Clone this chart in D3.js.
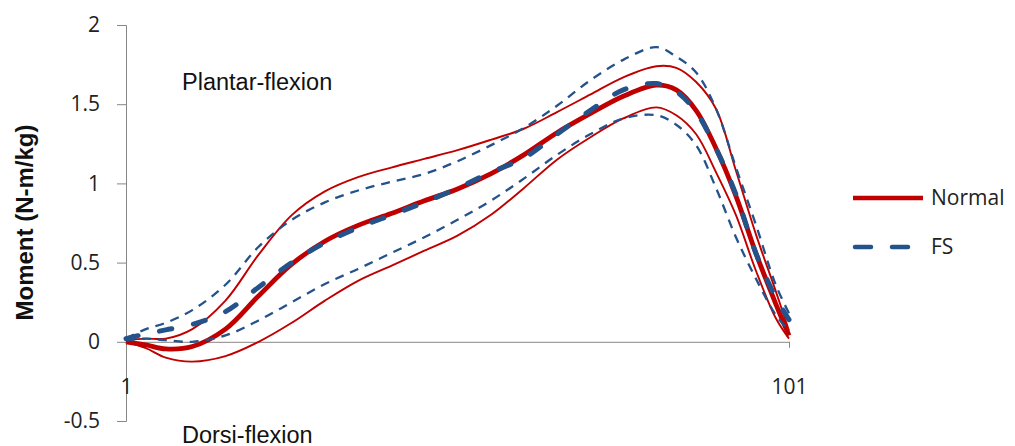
<!DOCTYPE html>
<html>
<head>
<meta charset="utf-8">
<script src="https://cdn.jsdelivr.net/npm/d3@7"></script>
<style>
  body { margin: 0; background: #fff; }
  svg { display: block; }
</style>
</head>
<body>
<div id="chart"></div>
<script>
// Gait cycle samples (% stance, 1..101)
const frames = [1, 4, 7, 11, 16, 21, 26, 31, 36, 41, 46, 51, 56, 61, 66, 71, 76, 81, 84, 87, 90, 93, 96, 99, 101];

// Normal: mean and +/- SD
const normalMean  = [0.00, -0.02, -0.045, -0.03, 0.08, 0.29, 0.49, 0.635, 0.735, 0.81, 0.89, 0.965, 1.06, 1.18, 1.32, 1.44, 1.55, 1.62, 1.59, 1.46, 1.22, 0.92, 0.56, 0.24, 0.04];
const normalUpper = [0.01, 0.02, 0.02, 0.08, 0.26, 0.55, 0.80, 0.95, 1.04, 1.10, 1.155, 1.21, 1.275, 1.345, 1.45, 1.56, 1.67, 1.74, 1.73, 1.64, 1.47, 1.08, 0.68, 0.32, 0.07];
const normalLower = [0.00, -0.04, -0.10, -0.125, -0.09, 0.00, 0.12, 0.26, 0.385, 0.48, 0.575, 0.67, 0.80, 0.97, 1.15, 1.29, 1.41, 1.48, 1.43, 1.31, 1.07, 0.80, 0.45, 0.15, 0.02];

// FS: mean and +/- SD
const fsMean  = [0.02, 0.05, 0.075, 0.11, 0.19, 0.345, 0.50, 0.625, 0.72, 0.80, 0.88, 0.97, 1.07, 1.16, 1.31, 1.46, 1.59, 1.63, 1.58, 1.45, 1.22, 0.93, 0.56, 0.28, 0.14];
const fsUpper = [0.02, 0.08, 0.12, 0.20, 0.36, 0.60, 0.77, 0.88, 0.955, 1.01, 1.06, 1.14, 1.24, 1.35, 1.49, 1.65, 1.78, 1.86, 1.80, 1.70, 1.47, 1.10, 0.74, 0.36, 0.18];
const fsLower = [0.01, 0.02, 0.01, 0.00, 0.04, 0.135, 0.25, 0.365, 0.46, 0.56, 0.66, 0.77, 0.89, 1.03, 1.18, 1.31, 1.41, 1.43, 1.37, 1.24, 0.97, 0.66, 0.40, 0.17, 0.07];

const yTicks = [-0.5, 0, 0.5, 1, 1.5, 2];
const xTicks = [1, 101];

const red = "#c00000";
const blue = "#24528a";

const W = 1015, H = 446;
const svg = d3.select("#chart").append("svg")
  .attr("width", W)
  .attr("height", H);

const x = d3.scaleLinear().domain([1, 101]).range([126, 789]);
const y = d3.scaleLinear().domain([-0.5, 2]).range([421, 25]);

const font = "'Open Sans', sans-serif";
const arial = "'Liberation Sans', Arial, sans-serif";

// Y axis
const yAxis = svg.append("g")
  .attr("transform", "translate(126,0)")
  .call(d3.axisLeft(y).tickValues(yTicks).tickSize(9).tickPadding(17)
    .tickFormat(d => String(d)));
yAxis.select(".domain").attr("stroke", "#868686");
yAxis.selectAll(".tick line").attr("stroke", "#868686");
yAxis.selectAll("text")
  .style("font-family", font)
  .style("font-size", "21px")
  .attr("fill", "#222");

// X axis at zero
const xAxis = svg.append("g")
  .attr("transform", `translate(0,${y(0)})`)
  .call(d3.axisBottom(x).tickValues(xTicks).tickSize(6).tickSizeOuter(0).tickPadding(31));
xAxis.select(".domain").attr("stroke", "#868686");
xAxis.selectAll(".tick line").attr("stroke", "#868686");
xAxis.selectAll("text")
  .style("font-family", font)
  .style("font-size", "21px")
  .attr("fill", "#222");

// Lines
const line = d3.line()
  .x((d, i) => x(frames[i]))
  .y(d => y(d))
  .curve(d3.curveCatmullRom.alpha(0.5));

const series = [
  { data: normalUpper, color: red, width: 1.9, dash: null },
  { data: normalLower, color: red, width: 1.9, dash: null },
  { data: normalMean,  color: red, width: 4.8, dash: null },
  { data: fsUpper, color: blue, width: 2.3, dash: "9 7" },
  { data: fsLower, color: blue, width: 2.3, dash: "9 7" },
  { data: fsMean,  color: blue, width: 5, dash: "12.5 22", cap: "round" }
];

series.forEach(s => {
  svg.append("path")
    .datum(s.data)
    .attr("d", line)
    .attr("fill", "none")
    .attr("stroke", s.color)
    .attr("stroke-width", s.width)
    .attr("stroke-dasharray", s.dash)
    .attr("stroke-linecap", s.cap || "butt")
    .attr("stroke-linejoin", "round");
});

// Annotations
svg.append("text")
  .attr("x", 182).attr("y", 90)
  .style("font-family", arial)
  .style("font-size", "23.5px")
  .attr("fill", "#111")
  .text("Plantar-flexion");

svg.append("text")
  .attr("x", 182).attr("y", 443)
  .style("font-family", arial)
  .style("font-size", "23.5px")
  .attr("fill", "#111")
  .text("Dorsi-flexion");

// Y label
svg.append("text")
  .attr("transform", `translate(33,${(123 + 322) / 2}) rotate(-90)`)
  .attr("text-anchor", "middle")
  .style("font-family", arial)
  .style("font-size", "24px")
  .style("font-weight", "bold")
  .attr("fill", "#111")
  .text("Moment (N-m/kg)");

// Legend
const legendItems = [
  { name: "Normal", color: red, dash: null, y: 198 },
  { name: "FS", color: blue, dash: "16 21", cap: "round", y: 247 }
];
const legend = svg.append("g");
legendItems.forEach(it => {
  legend.append("line")
    .attr("x1", it.dash ? 855 : 853).attr("x2", it.dash ? 910 : 923)
    .attr("y1", it.y).attr("y2", it.y)
    .attr("stroke", it.color)
    .attr("stroke-width", 4.5)
    .attr("stroke-dasharray", it.dash)
    .attr("stroke-linecap", it.cap || "butt");
  legend.append("text")
    .attr("x", 931).attr("y", it.y + 7)
    .style("font-family", font)
    .style("font-size", "21px")
    .attr("fill", "#222")
    .text(it.name);
});
</script>
</body>
</html>
